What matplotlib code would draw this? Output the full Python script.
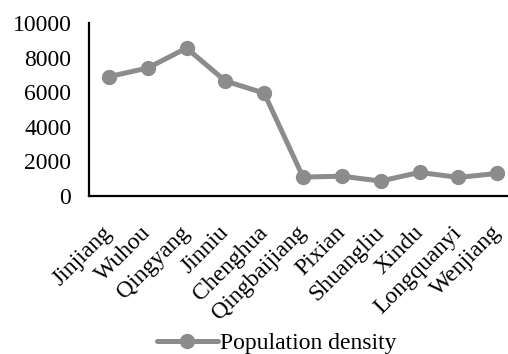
import matplotlib
matplotlib.use("Agg")
import matplotlib.pyplot as plt
from matplotlib.transforms import ScaledTranslation

districts = ["Jinjiang", "Wuhou", "Qingyang", "Jinniu", "Chenghua", "Qingbaijiang",
             "Pixian", "Shuangliu", "Xindu", "Longquanyi", "Wenjiang"]
density = [6900, 7400, 8550, 6650, 5950, 1100, 1150, 870, 1370, 1080, 1310]
yticks = [0, 2000, 4000, 6000, 8000, 10000]

plt.rcParams['font.family'] = ['Liberation Serif', 'DejaVu Serif']

fig = plt.figure(figsize=(5.08, 3.54), dpi=100)
ax = fig.add_axes([0.176, 0.446, 0.841, 0.489])

x = list(range(len(districts)))
line, = ax.plot(x, density, color="#8c8c8c", linewidth=3.6, marker="o",
                markersize=10, label="Population density", solid_capstyle="round")

ax.set_xlim(-0.5, len(districts) - 0.5)
ax.set_ylim(0, 10000)
ax.set_yticks(yticks)
ax.set_yticklabels([str(v) for v in yticks], fontsize=17)
ax.set_xticks(x)
ax.set_xticklabels(districts, rotation=45, ha="right", rotation_mode="anchor", fontsize=17)
ax.tick_params(axis="y", length=0, pad=13)
ax.tick_params(axis="x", length=0, pad=20)

# nudge the slanted category labels so their ends sit right under each point
shift = ScaledTranslation(-0.07, 0.02, fig.dpi_scale_trans)
for lbl in ax.get_xticklabels():
    lbl.set_transform(lbl.get_transform() + shift)

for side in ("top", "right"):
    ax.spines[side].set_visible(False)
for side in ("left", "bottom"):
    ax.spines[side].set_linewidth(1.6)
    ax.spines[side].set_color("black")

fig.legend(handles=[line], loc="lower center", bbox_to_anchor=(0.545, -0.06),
           frameon=False, fontsize=17, handlelength=2.6, handletextpad=0.1)

fig.savefig("out.png", dpi=100)
